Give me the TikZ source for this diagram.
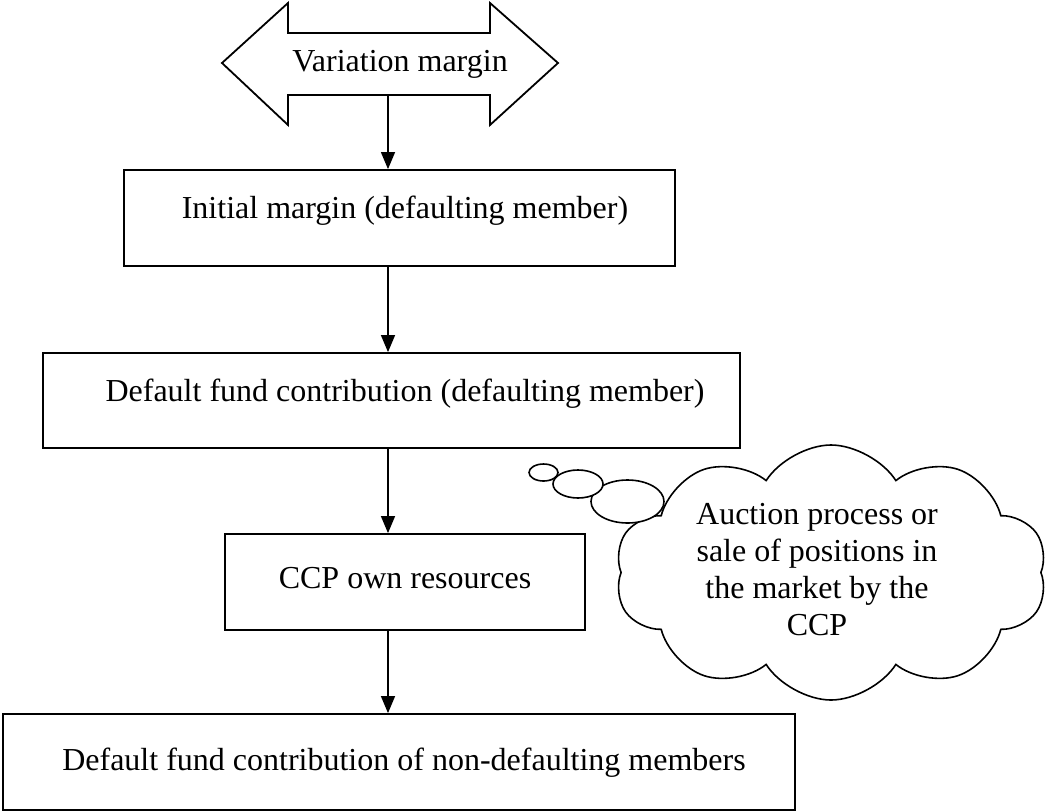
\documentclass[tikz,border=0pt]{standalone}
\usepackage{fontspec}
\setmainfont{Liberation Serif}
\usepackage{tikz}
\usetikzlibrary{shapes.symbols}
\usetikzlibrary{arrows.meta}

\tikzset{
  stagebox/.style={draw, line width=1.8pt, inner sep=0pt},
  flowarrow/.style={-{Triangle[length=17pt,width=14pt]}, line width=1.3pt}
}

\begin{document}
\begin{tikzpicture}[x=1pt, y=-1pt, font=\fontsize{32pt}{37pt}\selectfont]

    \useasboundingbox (0,0) rectangle (1048,811);
    \coordinate (spine) at (388,0);

    % double arrow on top
    \draw [line width=1.8pt] (222,63) -- (288,3) -- (288,33) -- (490,33) -- (490,3) -- (558,63)
        -- (490,125) -- (490,95) -- (288,95) -- (288,125) -- cycle;
    \node [minimum height=62pt, inner sep=0pt] (vm) at (400,64) {Variation margin};

    % the boxes
    \node [stagebox, minimum width=551pt, minimum height=96pt] (im)  at (399.5,218) {};
    \node [stagebox, minimum width=697pt, minimum height=95pt] (dfd) at (391.5,400.5) {};
    \node [stagebox, minimum width=360pt, minimum height=96pt] (ccp) at (405,582) {};
    \node [stagebox, minimum width=792pt, minimum height=96pt] (dfn) at (399,762) {};

    \node (imtext)  at (405,211) {Initial margin (defaulting member)};
    \node (dfdtext) at (405,394) {Default fund contribution (defaulting member)};
    \node (ccptext) at (405,578) {CCP own resources};
    \node (dfntext) at (404,763) {Default fund contribution of non-defaulting members};

    \draw [flowarrow] (vm.south -| spine)  -- (im.north -| spine);
    \draw [flowarrow] (im.south -| spine)  -- (dfd.north -| spine);
    \draw [flowarrow] (dfd.south -| spine) -- (ccp.north -| spine);
    \draw [flowarrow] (ccp.south -| spine) -- (dfn.north -| spine);

    % thought cloud
    \node [cloud, draw, line width=1.6pt, cloud puffs=10, cloud puff arc=115, cloud ignores aspect,
           minimum width=432pt, minimum height=255pt] (cloud) at (831,572.5) {};
    \draw [line width=1.6pt, fill=white] (627.5,501.5) ellipse [x radius=36.5, y radius=21.5];
    \draw [line width=1.6pt, fill=white] (578,484) ellipse [x radius=25, y radius=14];
    \draw [line width=1.6pt, fill=white] (543.5,472.5) ellipse [x radius=14.5, y radius=8.5];

    \node [align=center, inner sep=0pt] (auction) at (817,570)
        {Auction process or\\sale of positions in\\the market by the\\CCP};

\end{tikzpicture}
\end{document}
